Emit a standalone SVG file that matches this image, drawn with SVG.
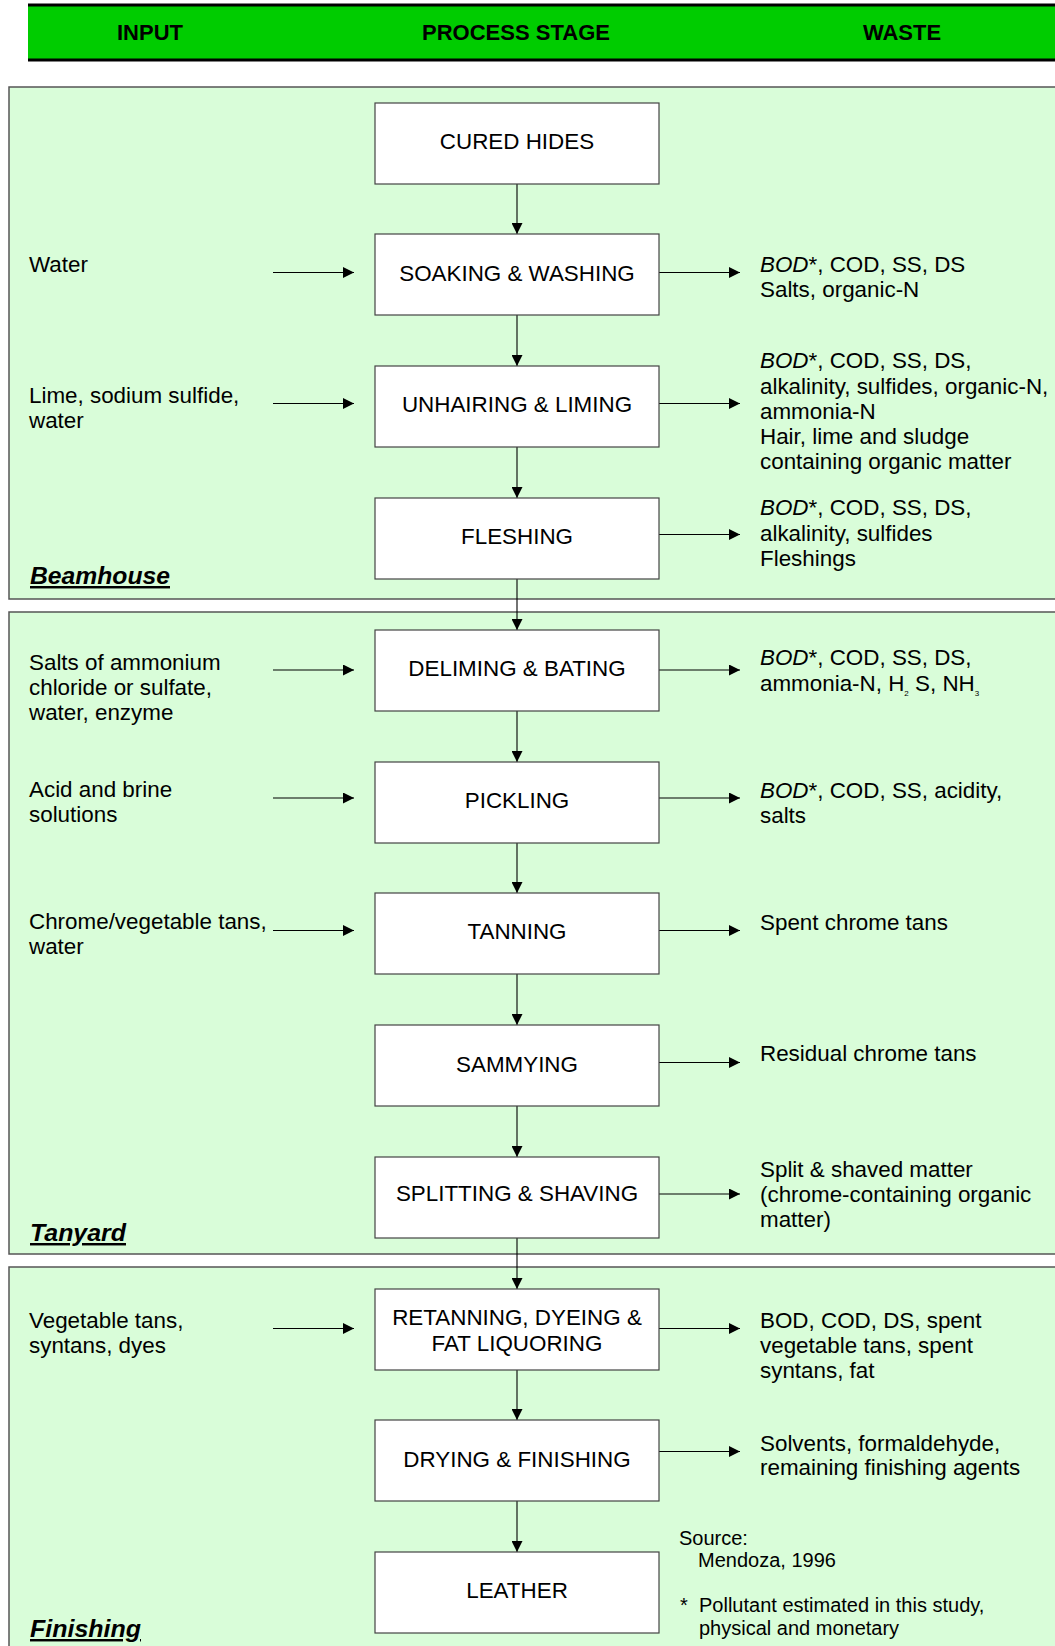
<svg xmlns="http://www.w3.org/2000/svg" width="1055" height="1646" viewBox="0 0 1055 1646">
<defs>
<marker id="ah" viewBox="0 0 11 11" refX="11" refY="5.5" markerWidth="11" markerHeight="11" markerUnits="userSpaceOnUse" orient="auto">
<path d="M0,0 L11,5.5 L0,11 Z" fill="#000"/>
</marker>
<style>
.sec{fill:#d9fdd9;stroke:#555;stroke-width:1.5}
.box{fill:#fff;stroke:#444;stroke-width:1.2}
.t{font-family:"Liberation Sans",Arial,sans-serif;font-size:22.4px;fill:#000}
.bt{font-family:"Liberation Sans",Arial,sans-serif;font-size:22.4px;fill:#000;text-anchor:middle}
.hd{font-family:"Liberation Sans",Arial,sans-serif;font-size:22px;font-weight:bold;fill:#000;text-anchor:middle}
.lbl{font-family:"Liberation Sans",Arial,sans-serif;font-size:24.5px;font-weight:bold;font-style:italic;text-decoration:underline;fill:#000}
.src{font-family:"Liberation Sans",Arial,sans-serif;font-size:20px;fill:#000}
.c line{stroke:#000;stroke-width:1.1;marker-end:url(#ah)}
.i{font-style:italic}
.sub{font-size:8px}
</style>
</defs>
<rect width="1055" height="1646" fill="#fff"/>
<g id="header">
<rect x="28" y="5" width="1030" height="55" fill="#00cc00"/>
<line x1="28" y1="5" x2="1058" y2="5" stroke="#000" stroke-width="3"/>
<line x1="28" y1="60" x2="1058" y2="60" stroke="#000" stroke-width="3"/>
<text class="hd" x="150" y="40">INPUT</text>
<text class="hd" x="516" y="40">PROCESS STAGE</text>
<text class="hd" x="902" y="40">WASTE</text>
</g>
<g id="beamhouse">
<rect class="sec" x="9" y="87" width="1060" height="512"/>
<text class="lbl" x="30" y="584" textLength="140" lengthAdjust="spacingAndGlyphs">Beamhouse</text>
</g>
<g id="tanyard">
<rect class="sec" x="9" y="612" width="1060" height="642"/>
<text class="lbl" x="30" y="1241" textLength="96" lengthAdjust="spacingAndGlyphs">Tanyard</text>
</g>
<g id="finishing">
<rect class="sec" x="9" y="1267" width="1060" height="400"/>
<text class="lbl" x="30" y="1637" textLength="111" lengthAdjust="spacingAndGlyphs">Finishing</text>
</g>
<g id="connectors" class="c">
<line x1="517" y1="184" x2="517" y2="234"/>
<line x1="517" y1="315" x2="517" y2="366"/>
<line x1="517" y1="447" x2="517" y2="498"/>
<line x1="517" y1="579" x2="517" y2="630"/>
<line x1="517" y1="711" x2="517" y2="762"/>
<line x1="517" y1="843" x2="517" y2="893"/>
<line x1="517" y1="974" x2="517" y2="1025"/>
<line x1="517" y1="1106" x2="517" y2="1157"/>
<line x1="517" y1="1238" x2="517" y2="1289"/>
<line x1="517" y1="1370" x2="517" y2="1420"/>
<line x1="517" y1="1501" x2="517" y2="1552"/>
<line x1="273" y1="272.5" x2="354" y2="272.5"/>
<line x1="273" y1="403.5" x2="354" y2="403.5"/>
<line x1="273" y1="670" x2="354" y2="670"/>
<line x1="273" y1="798" x2="354" y2="798"/>
<line x1="273" y1="930.5" x2="354" y2="930.5"/>
<line x1="273" y1="1328.5" x2="354" y2="1328.5"/>
<line x1="659" y1="272.5" x2="740" y2="272.5"/>
<line x1="659" y1="403.5" x2="740" y2="403.5"/>
<line x1="659" y1="534.5" x2="740" y2="534.5"/>
<line x1="659" y1="670" x2="740" y2="670"/>
<line x1="659" y1="798" x2="740" y2="798"/>
<line x1="659" y1="930.5" x2="740" y2="930.5"/>
<line x1="659" y1="1062.5" x2="740" y2="1062.5"/>
<line x1="659" y1="1194" x2="740" y2="1194"/>
<line x1="659" y1="1328.5" x2="740" y2="1328.5"/>
<line x1="659" y1="1451.5" x2="740" y2="1451.5"/>
</g>
<g id="cured-hides"><rect class="box" x="375" y="103" width="284" height="81"/><text class="bt" x="517" y="149">CURED HIDES</text></g>
<g id="soaking"><rect class="box" x="375" y="234" width="284" height="81"/><text class="bt" x="517" y="281">SOAKING &amp; WASHING</text></g>
<g id="unhairing"><rect class="box" x="375" y="366" width="284" height="81"/><text class="bt" x="517" y="412">UNHAIRING &amp; LIMING</text></g>
<g id="fleshing"><rect class="box" x="375" y="498" width="284" height="81"/><text class="bt" x="517" y="544">FLESHING</text></g>
<g id="deliming"><rect class="box" x="375" y="630" width="284" height="81"/><text class="bt" x="517" y="676">DELIMING &amp; BATING</text></g>
<g id="pickling"><rect class="box" x="375" y="762" width="284" height="81"/><text class="bt" x="517" y="808">PICKLING</text></g>
<g id="tanning"><rect class="box" x="375" y="893" width="284" height="81"/><text class="bt" x="517" y="939">TANNING</text></g>
<g id="sammying"><rect class="box" x="375" y="1025" width="284" height="81"/><text class="bt" x="517" y="1072">SAMMYING</text></g>
<g id="splitting"><rect class="box" x="375" y="1157" width="284" height="81"/><text class="bt" x="517" y="1201">SPLITTING &amp; SHAVING</text></g>
<g id="retanning"><rect class="box" x="375" y="1289" width="284" height="81"/><text class="bt" x="517" y="1325">RETANNING, DYEING &amp;</text><text class="bt" x="517" y="1351">FAT LIQUORING</text></g>
<g id="drying"><rect class="box" x="375" y="1420" width="284" height="81"/><text class="bt" x="517" y="1467">DRYING &amp; FINISHING</text></g>
<g id="leather"><rect class="box" x="375" y="1552" width="284" height="81"/><text class="bt" x="517" y="1598">LEATHER</text></g>
<g id="inputs">
<text class="t" x="29" y="272">Water</text>
<text class="t" x="29" y="403">Lime, sodium sulfide,</text>
<text class="t" x="29" y="428">water</text>
<text class="t" x="29" y="670">Salts of ammonium</text>
<text class="t" x="29" y="695">chloride or sulfate,</text>
<text class="t" x="29" y="720">water, enzyme</text>
<text class="t" x="29" y="797">Acid and brine</text>
<text class="t" x="29" y="822">solutions</text>
<text class="t" x="29" y="929">Chrome/vegetable tans,</text>
<text class="t" x="29" y="954">water</text>
<text class="t" x="29" y="1328">Vegetable tans,</text>
<text class="t" x="29" y="1353">syntans, dyes</text>
</g>
<g id="wastes">
<text class="t" x="760" y="272"><tspan class="i">BOD</tspan>*, COD, SS, DS</text>
<text class="t" x="760" y="297">Salts, organic-N</text>
<text class="t" x="760" y="368"><tspan class="i">BOD</tspan>*, COD, SS, DS,</text>
<text class="t" x="760" y="394">alkalinity, sulfides, organic-N,</text>
<text class="t" x="760" y="419">ammonia-N</text>
<text class="t" x="760" y="444">Hair, lime and sludge</text>
<text class="t" x="760" y="469">containing organic matter</text>
<text class="t" x="760" y="515"><tspan class="i">BOD</tspan>*, COD, SS, DS,</text>
<text class="t" x="760" y="541">alkalinity, sulfides</text>
<text class="t" x="760" y="566">Fleshings</text>
<text class="t" x="760" y="665"><tspan class="i">BOD</tspan>*, COD, SS, DS,</text>
<text class="t" x="760" y="691">ammonia-N, H<tspan class="sub" dy="5">2</tspan><tspan dy="-5"> S, NH</tspan><tspan class="sub" dy="5">3</tspan></text>
<text class="t" x="760" y="798"><tspan class="i">BOD</tspan>*, COD, SS, acidity,</text>
<text class="t" x="760" y="823">salts</text>
<text class="t" x="760" y="930">Spent chrome tans</text>
<text class="t" x="760" y="1061">Residual chrome tans</text>
<text class="t" x="760" y="1177">Split &amp; shaved matter</text>
<text class="t" x="760" y="1202">(chrome-containing organic</text>
<text class="t" x="760" y="1227">matter)</text>
<text class="t" x="760" y="1328">BOD, COD, DS, spent</text>
<text class="t" x="760" y="1353">vegetable tans, spent</text>
<text class="t" x="760" y="1378">syntans, fat</text>
<text class="t" x="760" y="1451">Solvents, formaldehyde,</text>
<text class="t" x="760" y="1475">remaining finishing agents</text>
</g>
<g id="source">
<text class="src" x="679" y="1545">Source:</text>
<text class="src" x="698" y="1567">Mendoza, 1996</text>
<text class="src" x="680" y="1612">*</text>
<text class="src" x="699" y="1612">Pollutant estimated in this study,</text>
<text class="src" x="699" y="1635">physical and monetary</text>
</g>
</svg>
